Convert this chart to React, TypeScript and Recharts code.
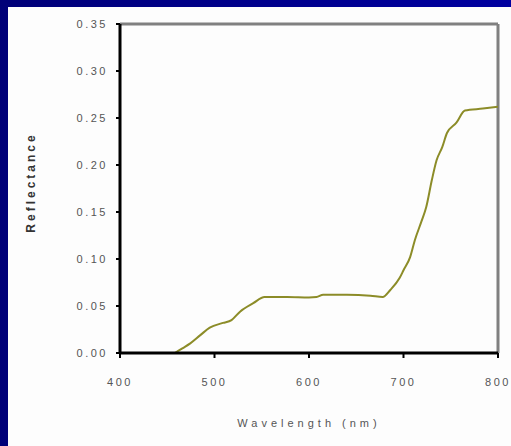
import React from "react";
import {
  LineChart,
  Line,
  XAxis,
  YAxis,
  ReferenceLine,
} from "recharts";

// wavelength (nm) and reflectance
const wavelengths = [
  458, 466, 474, 485, 495, 509, 518, 527, 541, 553, 577, 600, 608, 615, 640,
  665, 678, 686, 696, 700, 707, 712, 719, 724, 730, 735, 741, 746, 756, 765,
  784, 800,
];
const reflectance = [
  0, 0.005, 0.01, 0.019, 0.027, 0.032, 0.035, 0.044, 0.053, 0.0595, 0.0595,
  0.059, 0.0595, 0.062, 0.062, 0.061, 0.0595, 0.067, 0.08, 0.088, 0.102, 0.12,
  0.14, 0.155, 0.184, 0.205, 0.219, 0.234, 0.245, 0.258, 0.26, 0.262,
];
const xTicks = [400, 500, 600, 700, 800];
const yTicks = [0, 0.05, 0.1, 0.15, 0.2, 0.25, 0.3, 0.35];

const data = wavelengths.map((w, i) => ({ wl: w, r: reflectance[i] }));

const W = 511;
const H = 446;
const tickFont = {
  fontFamily: "Arial, 'Liberation Sans', sans-serif",
  fontSize: 11,
  fill: "#555",
  letterSpacing: 2.5,
};

export default function App() {
  return (
    <div
      style={{
        position: "absolute",
        left: 0,
        top: 0,
        width: W,
        height: H,
        background: "linear-gradient(90deg, #000078, #0000a0)",
        overflow: "hidden",
      }}
    >
      <div
        style={{
          position: "absolute",
          left: 8,
          top: 7,
          width: W - 8,
          height: H - 7,
          background: "#fdfdfd",
        }}
      />
      <div style={{ position: "absolute", left: 0, top: 0 }}>
        <LineChart
          width={W}
          height={H}
          data={data}
          margin={{ top: 24, right: 13, left: 60, bottom: 53 }}
        >
          <XAxis
            dataKey="wl"
            type="number"
            domain={[400, 800]}
            ticks={xTicks}
            height={40}
            axisLine={{ stroke: "#000", strokeWidth: 3 }}
            tickLine={{ stroke: "#000", strokeWidth: 2 }}
            tickSize={5}
            tickMargin={20}
            tick={tickFont}
            label={{
              value: "Wavelength (nm)",
              position: "insideBottom",
              offset: -34,
              style: {
                fontFamily: "Arial, 'Liberation Sans', sans-serif",
                fontSize: 11,
                fill: "#555",
                letterSpacing: 4,
              },
            }}
          />
          <YAxis
            type="number"
            domain={[0, 0.35]}
            ticks={yTicks}
            width={60}
            axisLine={{ stroke: "#000", strokeWidth: 3 }}
            tickLine={{ stroke: "#000", strokeWidth: 2 }}
            tickSize={4}
            tickMargin={8}
            tickFormatter={(v: number) => v.toFixed(2)}
            tick={tickFont}
            label={{
              value: "Reflectance",
              angle: -90,
              position: "insideLeft",
              dx: -34,
              dy: -6,
              style: {
                textAnchor: "middle",
                fontFamily: "Arial, 'Liberation Sans', sans-serif",
                fontSize: 12,
                fontWeight: "bold",
                fill: "#333",
                letterSpacing: 3,
              },
            }}
          />
          <ReferenceLine y={0.35} stroke="#808080" strokeWidth={3} />
          <ReferenceLine x={800} stroke="#808080" strokeWidth={3} />
          <Line
            type="monotone"
            dataKey="r"
            stroke="#8c8c28"
            strokeWidth={2}
            dot={false}
            isAnimationActive={false}
          />
        </LineChart>
      </div>
    </div>
  );
}
